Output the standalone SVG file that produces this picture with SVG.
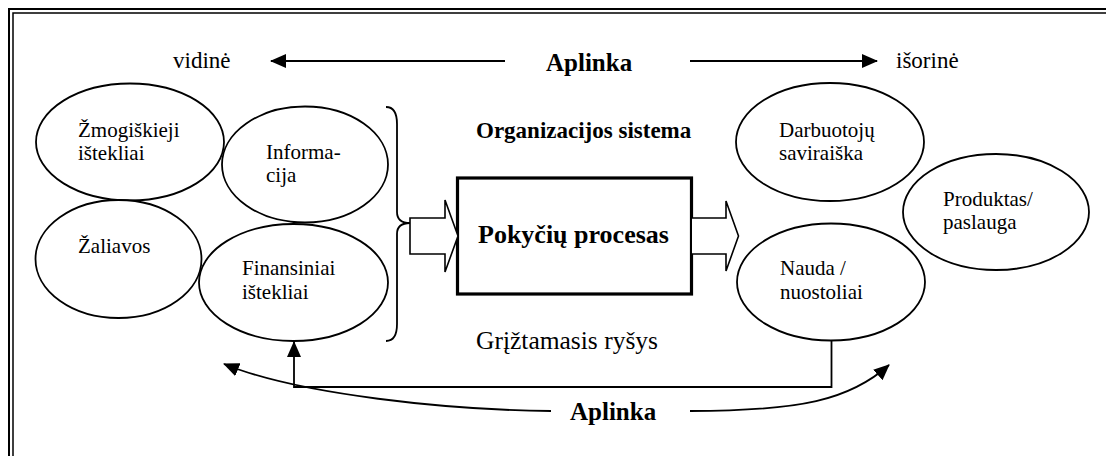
<svg xmlns="http://www.w3.org/2000/svg" width="1106" height="456" viewBox="0 0 1106 456">
  <style>
    .frame { fill: none; stroke: #000; }
    .node ellipse { fill: #fff; stroke: #000; stroke-width: 1.8; }
    text { font-family: 'Liberation Serif', Tinos, 'DejaVu Serif', serif; fill: #000; }
    .node text { font-size: 21px; }
    .b { font-weight: bold; }
    .conn { fill: none; stroke: #000; stroke-width: 1.8; }
    .block { fill: #fff; stroke: #000; stroke-width: 1.6; stroke-linejoin: miter; }
  </style>
  <defs>
    <marker id="head" viewBox="0 0 16 14" refX="15" refY="7" markerWidth="16" markerHeight="14" markerUnits="userSpaceOnUse" orient="auto">
      <path d="M0,0 L16,7 L0,14 Z" fill="#000"/>
    </marker>
  </defs>

  <rect width="1106" height="456" fill="#fff"/>

  <!-- double page frame, open to the right and bottom -->
  <g id="frame">
    <path class="frame" stroke-width="2" d="M9,456 L9,9 L1106,9"/>
    <path class="frame" stroke-width="1.5" d="M13,456 L13,13 L1106,13"/>
  </g>

  <!-- environment axis labels -->
  <g id="environment-top" font-family="Liberation Serif, serif">
    <text x="173" y="68" font-size="23">vidinė</text>
    <text class="b" x="546" y="71" font-size="25">Aplinka</text>
    <text x="896" y="68" font-size="23">išorinė</text>
  </g>

  <g id="title">
    <text class="b" x="476" y="138" font-size="23">Organizacijos sistema</text>
  </g>

  <!-- input resources -->
  <g id="n-zmogiskieji" class="node">
    <ellipse cx="130" cy="142" rx="94" ry="58.5"/>
    <text x="78" y="137">Žmogiškieji</text>
    <text x="78" y="160">ištekliai</text>
  </g>
  <g id="n-informacija" class="node">
    <ellipse cx="305" cy="164.5" rx="83" ry="58"/>
    <text x="266" y="159">Informa-</text>
    <text x="266" y="182">cija</text>
  </g>
  <g id="n-zaliavos" class="node">
    <ellipse cx="118.5" cy="259" rx="83" ry="59"/>
    <text x="78" y="253">Žaliavos</text>
  </g>
  <g id="n-finansiniai" class="node">
    <ellipse cx="293.5" cy="282.5" rx="94.5" ry="58.5"/>
    <text x="242" y="275">Finansiniai</text>
    <text x="242" y="299">ištekliai</text>
  </g>

  <!-- central process -->
  <g id="n-process">
    <rect x="457.5" y="178" width="234" height="116" fill="#fff" stroke="#000" stroke-width="3.2"/>
    <text class="b" x="478" y="243" font-size="26">Pokyčių procesas</text>
  </g>

  <!-- outputs -->
  <g id="n-darbuotoju" class="node">
    <ellipse cx="830" cy="142" rx="94" ry="59"/>
    <text x="779" y="137">Darbuotojų</text>
    <text x="779" y="160">saviraiška</text>
  </g>
  <g id="n-produktas" class="node">
    <ellipse cx="996" cy="212" rx="93" ry="58"/>
    <text x="943" y="206">Produktas/</text>
    <text x="943" y="229">paslauga</text>
  </g>
  <g id="n-nauda" class="node">
    <ellipse cx="831" cy="282" rx="94" ry="58.5"/>
    <text x="780" y="275">Nauda /</text>
    <text x="780" y="299">nuostoliai</text>
  </g>

  <g id="feedback-label">
    <text x="476" y="349" font-size="25.5">Grįžtamasis ryšys</text>
  </g>
  <g id="environment-bottom">
    <text class="b" x="570" y="420" font-size="25">Aplinka</text>
  </g>

  <g id="connectors">
    <!-- top environment axis -->
    <path class="conn" d="M505,61 L271,61" marker-end="url(#head)"/>
    <path class="conn" d="M690,61 L877,61" marker-end="url(#head)"/>

    <!-- brace grouping the inputs -->
    <path class="conn" d="M386,107 Q397,107 397,124 L397,212 Q397,223 410,223 Q397,223 397,234 L397,324 Q397,341 386,341"/>

    <!-- block arrow into the process -->
    <path class="block" d="M410,218 L445,218 L445,200 L458,236 L445,272 L445,254 L410,254 Z"/>
    <!-- block arrow out of the process -->
    <path class="block" d="M692,218 L726,218 L726,201 L738.5,236 L726,271 L726,254 L692,254"/>

    <!-- feedback loop -->
    <path class="conn" d="M831.5,341 L831.5,387 L294,387 L294,342" marker-end="url(#head)"/>

    <!-- bottom environment curves -->
    <path class="conn" d="M551,411 C450,410 300,395 224,364" marker-end="url(#head)"/>
    <path class="conn" d="M690,411 C800,411 850,400 889,365" marker-end="url(#head)"/>
  </g>
</svg>
